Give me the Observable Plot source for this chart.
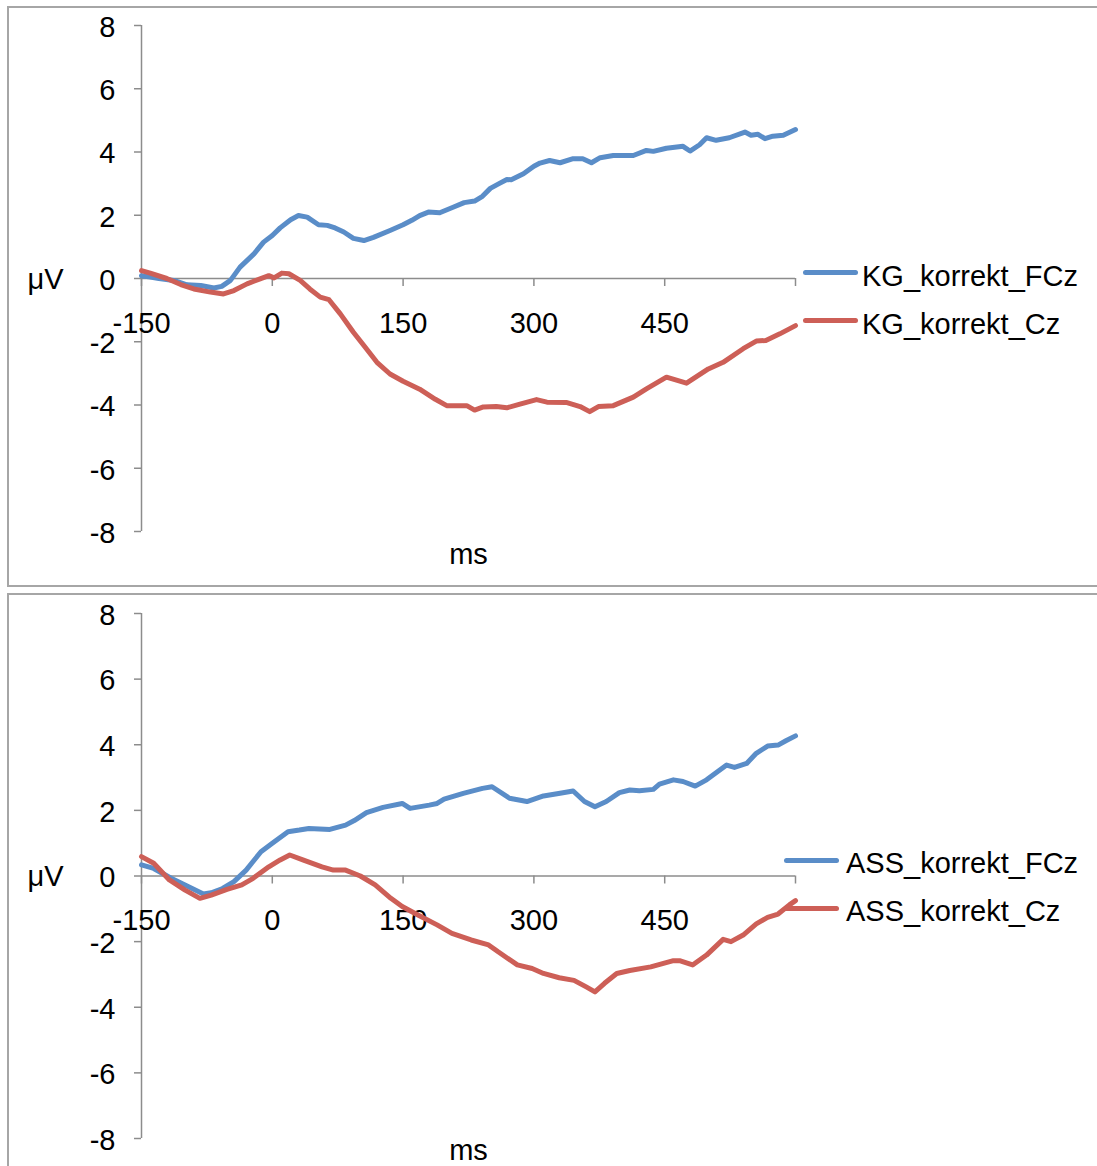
<!DOCTYPE html>
<html><head><meta charset="utf-8">
<script src="https://cdn.jsdelivr.net/npm/d3@7"></script>
<script src="https://cdn.jsdelivr.net/npm/@observablehq/plot@0.6"></script>
<style>
html,body{margin:0;padding:0;background:#fff;overflow:hidden;}
#page{position:relative;width:1097px;height:1166px;overflow:hidden;font-family:"Liberation Sans",Arial,sans-serif;}
.panel{position:absolute;border:2px solid #a6a6a6;box-sizing:border-box;}
.chart{position:absolute;left:0;}
.leg-line{position:absolute;width:55px;height:5px;border-radius:3px;}
.leg-text{position:absolute;font-size:29px;line-height:29px;color:#000;white-space:nowrap;}
</style></head><body><div id="page"></div>
<script>
// ---- data (ms, µV) ----
const xTicks = [-150, 0, 150, 300, 450, 600];
const xLabels = [-150, 0, 150, 300, 450];
const yTicks = [-8, -6, -4, -2, 0, 2, 4, 6, 8];
const seriesTop = ["KG_korrekt_FCz", "KG_korrekt_Cz"];
const seriesBottom = ["ASS_korrekt_FCz", "ASS_korrekt_Cz"];

const kgFCz = [[-150,0.09],[-140,0.05],[-130,0.0],[-113,-0.06],[-98,-0.2],[-82,-0.22],[-67,-0.3],[-58,-0.25],[-48,-0.06],[-37,0.36],[-21,0.78],[-10,1.15],[0,1.36],[9,1.6],[21,1.86],[30,1.99],[40,1.94],[53,1.7],[63,1.68],[72,1.6],[82,1.47],[93,1.27],[105,1.2],[116,1.3],[135,1.52],[150,1.7],[160,1.84],[169,1.99],[179,2.1],[192,2.08],[208,2.26],[220,2.4],[232,2.45],[241,2.6],[250,2.85],[260,3.0],[269,3.13],[274,3.12],[288,3.31],[300,3.55],[307,3.65],[318,3.73],[330,3.66],[345,3.79],[356,3.79],[366,3.66],[376,3.82],[391,3.89],[414,3.89],[429,4.05],[437,4.02],[452,4.12],[471,4.18],[479,4.03],[490,4.23],[498,4.45],[509,4.37],[524,4.45],[542,4.63],[549,4.53],[557,4.56],[565,4.42],[574,4.5],[586,4.53],[600,4.71]];

const kgCz = [[-150,0.25],[-140,0.17],[-121,0.0],[-105,-0.19],[-90,-0.33],[-71,-0.43],[-56,-0.49],[-44,-0.38],[-29,-0.17],[-14,-0.01],[-4,0.09],[2,0.02],[11,0.17],[19,0.15],[32,-0.06],[43,-0.33],[55,-0.59],[65,-0.67],[78,-1.12],[93,-1.7],[105,-2.12],[120,-2.65],[135,-3.02],[150,-3.25],[169,-3.5],[187,-3.82],[200,-4.02],[223,-4.02],[232,-4.16],[242,-4.06],[257,-4.05],[269,-4.09],[284,-3.97],[303,-3.83],[315,-3.91],[337,-3.92],[353,-4.05],[364,-4.21],[374,-4.05],[391,-4.02],[414,-3.75],[429,-3.49],[452,-3.12],[475,-3.31],[500,-2.86],[517,-2.65],[540,-2.22],[555,-1.98],[566,-1.96],[582,-1.75],[600,-1.49]];

const assFCz = [[-150,0.34],[-136,0.23],[-116,-0.07],[-96,-0.33],[-79,-0.55],[-70,-0.51],[-57,-0.38],[-44,-0.17],[-30,0.18],[-13,0.74],[0,1.0],[18,1.35],[31,1.4],[42,1.45],[66,1.42],[84,1.55],[94,1.69],[108,1.93],[127,2.09],[149,2.21],[158,2.06],[180,2.16],[189,2.21],[197,2.34],[219,2.52],[241,2.67],[252,2.72],[272,2.37],[292,2.27],[311,2.44],[330,2.52],[345,2.59],[358,2.27],[370,2.11],[383,2.27],[398,2.54],[410,2.62],[421,2.6],[437,2.64],[444,2.8],[460,2.93],[471,2.88],[485,2.74],[498,2.93],[521,3.38],[530,3.31],[544,3.43],[555,3.74],[568,3.96],[580,3.99],[589,4.12],[600,4.27]];

const assCz = [[-150,0.59],[-136,0.39],[-118,-0.12],[-100,-0.43],[-83,-0.68],[-70,-0.58],[-52,-0.41],[-35,-0.27],[-22,-0.07],[-4,0.28],[9,0.49],[20,0.64],[35,0.49],[57,0.28],[70,0.18],[84,0.18],[101,0.0],[118,-0.27],[136,-0.68],[149,-0.93],[167,-1.19],[189,-1.49],[206,-1.75],[228,-1.95],[248,-2.1],[259,-2.31],[281,-2.71],[298,-2.82],[311,-2.97],[329,-3.1],[346,-3.18],[360,-3.38],[370,-3.53],[381,-3.27],[395,-2.97],[410,-2.88],[434,-2.77],[460,-2.58],[467,-2.58],[482,-2.71],[498,-2.41],[517,-1.93],[526,-2.0],[540,-1.8],[555,-1.46],[568,-1.26],[580,-1.16],[593,-0.88],[600,-0.75]];

const BLUE = "#5a8dc8";
const RED = "#cd5f57";
const AXIS = "#8c8c8c";
const FONT = "'Liberation Sans', Arial, sans-serif";

function chart({height, marginTop, marginBottom, fcz, cz, msDy}) {
  return Plot.plot({
    width: 1097, height,
    marginLeft: 141, marginRight: 302, marginTop, marginBottom,
    x: {domain: [-150, 600], axis: null},
    y: {domain: [-8, 8], axis: null},
    style: {background: "transparent", overflow: "visible", fontFamily: FONT, fontSize: "29px", color: "#000"},
    marks: [
      Plot.ruleX([-150], {y1: -8, y2: 8, stroke: AXIS, strokeWidth: 1.5}),
      Plot.axisY({ticks: yTicks, anchor: "left", tickSize: 7, tickFormat: () => "", stroke: AXIS, strokeWidth: 1.5}),
      Plot.text(yTicks, {x: () => -150, y: d => d, text: d => String(d), textAnchor: "end", dx: -26, dy: 2, fontSize: 29, fill: "#000"}),
      Plot.ruleY([0], {x1: -150, x2: 600, stroke: AXIS, strokeWidth: 1.5}),
      Plot.ruleX(xTicks, {x: d => d, y1: 0, y2: 0, insetBottom: -8, stroke: AXIS, strokeWidth: 1.5}),
      Plot.text(xLabels, {x: d => d, y: () => 0, text: d => String(d), dy: 45, fontSize: 29, fill: "#000"}),
      Plot.text(["μV"], {x: () => -150, y: () => 0, dx: -96, dy: 1, fontSize: 29, fill: "#000"}),
      Plot.text(["ms"], {frameAnchor: "bottom", lineAnchor: "middle", dy: msDy, fontSize: 29, fill: "#000"}),
      Plot.line(fcz, {x: d => d[0], y: d => d[1], stroke: BLUE, strokeWidth: 5, strokeLinejoin: "round", strokeLinecap: "round"}),
      Plot.line(cz, {x: d => d[0], y: d => d[1], stroke: RED, strokeWidth: 5, strokeLinejoin: "round", strokeLinecap: "round"})
    ]
  });
}

const page = document.getElementById("page");

function place(el, top) { el.classList.add("chart"); el.style.top = top + "px"; page.appendChild(el); }

place(chart({height: 586, marginTop: 25, marginBottom: 55, fcz: kgFCz, cz: kgCz, msDy: 23}), 0);
place(chart({height: 572, marginTop: 19, marginBottom: 28, fcz: assFCz, cz: assCz, msDy: 12}), 594);

function div(cls, styles, text) {
  const d = document.createElement("div");
  d.className = cls;
  Object.assign(d.style, styles);
  if (text) d.textContent = text;
  page.appendChild(d);
  return d;
}
// panel frames
div("panel", {left: "7px", top: "6px", width: "1120px", height: "581px"});
div("panel", {left: "7px", top: "593px", width: "1120px", height: "700px"});

// legends
function legend(names, x0, lineTops, textLeft, textTops) {
  [BLUE, RED].forEach((c, i) => {
    div("leg-line", {left: x0 + "px", top: lineTops[i] + "px", background: c});
    div("leg-text", {left: textLeft + "px", top: textTops[i] + "px"}, names[i]);
  });
}
legend(seriesTop, 803, [270, 318], 862, [261.5, 309.5]);
legend(seriesBottom, 784, [857.5, 905.5], 846, [848.5, 896.5]);
</script></body></html>
